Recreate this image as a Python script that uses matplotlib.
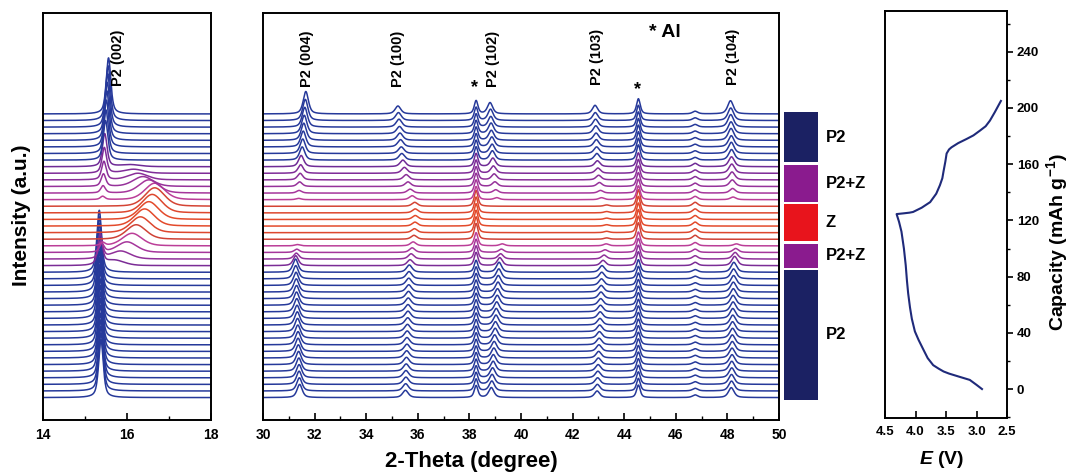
import numpy as np
import matplotlib
matplotlib.use('Agg')
import matplotlib.pyplot as plt
from matplotlib.ticker import MultipleLocator, FormatStrFormatter

plt.rcParams['font.family'] = ['Liberation Sans', 'DejaVu Sans']
plt.rcParams['font.weight'] = 'bold'
plt.rcParams['mathtext.fontset'] = 'custom'
plt.rcParams['mathtext.rm'] = 'Liberation Sans:bold'
plt.rcParams['mathtext.it'] = 'Liberation Sans:italic:bold'
plt.rcParams['mathtext.bf'] = 'Liberation Sans:bold'

# scans are indexed from the bottom (start of charge) to the top (end of discharge)
# phase blocks: P2, P2+Z, Z, P2+Z, P2
block_names = ['P2', 'P2+Z', 'Z', 'P2+Z', 'P2']
block_sizes = [20, 4, 6, 6, 8]
block_colors = ['#1b2163', '#8a1b8e', '#e8141c', '#8a1b8e', '#1b2163']

trace_colors = (['#26399a'] * 20
                + ['#7b2c96', '#8f3099', '#a5369b', '#bb3e98']
                + ['#cf4236', '#dd472e', '#e34a2b', '#e34a2b', '#dd472e', '#d44434']
                + ['#bb3e98', '#a5369b', '#96329a', '#8a2f99', '#7f2c98', '#6f2b96']
                + ['#26399a'] * 8)

# P2 (002) reflection
p002_pos = ([15.38] * 4 + [15.37] * 4 + [15.36] * 4 + [15.35] * 4 + [15.34] * 4
            + [15.36, 15.38, 15.40, 15.42] + [15.44] * 6
            + [15.42, 15.43, 15.44, 15.45, 15.46, 15.47]
            + [15.49, 15.50, 15.51, 15.52, 15.53, 15.54, 15.55, 15.56])
p002_h = ([8.8] * 5 + [9.0] * 5 + [9.2] * 5 + [9.4] * 5
          + [4.6, 2.6, 1.3, 0.5] + [0.0] * 6
          + [0.5, 1.1, 1.9, 2.8, 3.9, 5.0]
          + [6.0, 6.6, 7.1, 7.5, 7.8, 8.1, 8.3, 8.5])

# broad Z-phase (002) reflection
z002_pos = ([16.0] * 20
            + [15.70, 15.85, 16.00, 16.12, 16.22, 16.32, 16.42, 16.52, 16.60, 16.66,
               16.66, 16.52, 16.38, 16.26, 16.16, 16.08]
            + [16.0] * 8)
z002_h = ([0.0] * 20
          + [0.8, 1.2, 1.6, 1.9, 2.2, 2.4, 2.6, 2.7, 2.8, 2.8,
             2.5, 2.0, 1.5, 1.0, 0.6, 0.3]
          + [0.0] * 8)

p004_pos = ([31.42, 31.41, 31.40, 31.40, 31.39, 31.38, 31.37, 31.36, 31.36, 31.35,
             31.34, 31.33, 31.32, 31.31, 31.30, 31.30, 31.29, 31.28, 31.27, 31.26]
            + [31.27, 31.29, 31.31, 31.33] + [31.35] * 6
            + [31.38, 31.40, 31.42, 31.44, 31.46, 31.48]
            + [31.52, 31.54, 31.56, 31.58, 31.60, 31.62, 31.64, 31.66])
p004_h = ([2.0] * 20 + [1.5, 0.9, 0.5, 0.2] + [0.0] * 6
          + [0.2, 0.4, 0.7, 1.0, 1.3, 1.7]
          + [2.0, 2.2, 2.4, 2.6, 2.8, 3.0, 3.2, 3.4])

p100_pos = ([35.52, 35.53, 35.54, 35.54, 35.55, 35.56, 35.57, 35.58, 35.58, 35.59,
             35.60, 35.61, 35.62, 35.62, 35.63, 35.64, 35.65, 35.65, 35.66, 35.67]
            + [35.70, 35.74, 35.78, 35.82]
            + [35.85, 35.87, 35.89, 35.90, 35.90, 35.88]
            + [35.78, 35.70, 35.62, 35.55, 35.48, 35.42]
            + [35.38, 35.36, 35.33, 35.31, 35.29, 35.27, 35.25, 35.23])
p100_h = ([1.1] * 20 + [0.9, 0.8, 0.7, 0.6] + [0.6] * 6
          + [0.6, 0.6, 0.7, 0.8, 0.9, 1.0]
          + [1.0, 1.0, 1.1, 1.1, 1.1, 1.2, 1.2, 1.2])

p102_pos = ([38.85, 38.87, 38.88, 38.90, 38.92, 38.93, 38.95, 38.96, 38.98, 39.00,
             39.01, 39.03, 39.04, 39.06, 39.08, 39.09, 39.11, 39.12, 39.14, 39.15]
            + [39.18, 39.21, 39.24, 39.27] + [39.30] * 6
            + [39.06, 39.02, 38.99, 38.96, 38.93, 38.91]
            + [38.89, 38.88, 38.87, 38.85, 38.84, 38.83, 38.82, 38.80])
p102_h = ([1.5] * 20 + [1.2, 0.8, 0.5, 0.3] + [0.0] * 6
          + [0.3, 0.5, 0.7, 0.9, 1.1, 1.3]
          + [1.4, 1.4, 1.5, 1.5, 1.6, 1.6, 1.7, 1.7])

p103_pos = ([42.95, 42.96, 42.97, 42.98, 42.99, 43.00, 43.01, 43.02, 43.03, 43.04,
             43.05, 43.06, 43.07, 43.08, 43.09, 43.10, 43.11, 43.12, 43.13, 43.14]
            + [43.18, 43.22, 43.26, 43.30] + [43.32] * 6
            + [43.12, 43.08, 43.04, 43.01, 42.98, 42.96]
            + [42.94, 42.93, 42.92, 42.91, 42.90, 42.89, 42.88, 42.87])
p103_h = ([1.0] * 20 + [0.8, 0.6, 0.4, 0.3] + [0.2] * 6
          + [0.3, 0.4, 0.6, 0.7, 0.8, 0.9]
          + [1.0, 1.0, 1.1, 1.1, 1.2, 1.2, 1.2, 1.3])

p104_pos = ([48.15, 48.16, 48.16, 48.17, 48.17, 48.18, 48.18, 48.19, 48.19, 48.20,
             48.20, 48.21, 48.21, 48.22, 48.22, 48.23, 48.23, 48.24, 48.24, 48.25]
            + [48.28, 48.30, 48.32, 48.35] + [48.35] * 6
            + [48.22, 48.20, 48.19, 48.18, 48.17, 48.16]
            + [48.16, 48.15, 48.15, 48.14, 48.14, 48.13, 48.13, 48.12])
p104_h = ([1.5] * 20 + [1.4, 1.0, 0.6, 0.3] + [0.0] * 6
          + [0.4, 0.7, 1.0, 1.2, 1.4, 1.5]
          + [1.6, 1.7, 1.7, 1.8, 1.8, 1.9, 1.9, 2.0])

# aluminium current collector and a weak reflection near 46.75
al_pos = [38.26, 44.55]
al1_h = [1.8] * 20 + [2.0] * 4 + [2.4] * 6 + [2.0] * 6 + [2.0] * 8
al2_h = [1.9] * 20 + [2.1] * 4 + [2.5] * 6 + [2.1] * 6 + [2.3] * 8
weak_pos = 46.75
weak_h = [0.4] * 20 + [0.5] * 4 + [0.6] * 6 + [0.5] * 6 + [0.4] * 8

# charge / discharge curve
chg_v = [2.91, 3.0, 3.11, 3.3, 3.45, 3.54, 3.62, 3.71, 3.80, 3.87, 3.95, 4.01, 4.06,
         4.09, 4.12, 4.14, 4.16, 4.19, 4.23, 4.27, 4.31]
chg_cap = [0, 3, 6.5, 9, 11, 12.5, 14.5, 17, 22, 28, 35, 41, 50, 58, 68, 77, 88, 100,
           112, 119, 124.5]
dis_v = [4.31, 4.2, 4.1, 4.04, 3.9, 3.76, 3.66, 3.60, 3.56, 3.54, 3.51, 3.49, 3.45,
         3.41, 3.3, 3.16, 3.05, 2.94, 2.85, 2.78, 2.7, 2.6]
dis_cap = [124.5, 125, 125.5, 126, 129, 133, 139, 145, 150, 155, 162, 167.6, 170.5,
           172, 175, 178, 180.5, 184, 187, 191, 197, 205]


def peak(x, c, h, w, eta=0.6):
    d = (x - c) / (w / 2.)
    return h * (eta / (1 + d ** 2) + (1 - eta) * np.exp(-np.log(2) * d ** 2))


n_scans = len(p002_pos)
x_lo = np.linspace(14, 18, 900)
x_hi = np.linspace(30, 50, 3000)

fig = plt.figure(figsize=(10.7, 4.75), dpi=100)
ax1 = fig.add_axes([43 / 1070, 55 / 475, 168 / 1070, 407 / 475])
ax2 = fig.add_axes([263 / 1070, 55 / 475, 516 / 1070, 407 / 475])
axb = fig.add_axes([784 / 1070, 55 / 475, 34 / 1070, 407 / 475])
ax3 = fig.add_axes([885 / 1070, 57 / 475, 122 / 1070, 407 / 475])

for k in range(n_scans):
    y1 = (peak(x_lo, p002_pos[k], p002_h[k], 0.13)
          + peak(x_lo, z002_pos[k], z002_h[k], 0.55, eta=0.3))
    ax1.plot(x_lo, y1 + k, color=trace_colors[k], lw=1.1)

    y2 = (peak(x_hi, p004_pos[k], p004_h[k], 0.24)
          + peak(x_hi, p100_pos[k], p100_h[k], 0.26)
          + peak(x_hi, al_pos[0], al1_h[k], 0.17)
          + peak(x_hi, p102_pos[k], p102_h[k], 0.24)
          + peak(x_hi, p103_pos[k], p103_h[k], 0.24)
          + peak(x_hi, al_pos[1], al2_h[k], 0.17)
          + peak(x_hi, weak_pos, weak_h[k], 0.24)
          + peak(x_hi, p104_pos[k], p104_h[k], 0.26))
    ax2.plot(x_hi, y2 + k, color=trace_colors[k], lw=1.1)

y_range = (-3.4, 58.3)
for ax, xr in [(ax1, (14, 18)), (ax2, (30, 50))]:
    ax.set_xlim(*xr)
    ax.set_ylim(*y_range)
    ax.set_yticks([])
    ax.xaxis.set_major_locator(MultipleLocator(2))
    ax.xaxis.set_minor_locator(MultipleLocator(1))
    ax.tick_params(axis='x', which='major', direction='in', length=5, width=1.2,
                   labelsize=10, pad=6)
    ax.tick_params(axis='x', which='minor', direction='in', length=3, width=1)
    for s in ax.spines.values():
        s.set_linewidth(1.4)

lab = dict(rotation=90, ha='center', va='bottom', fontsize=10.5, fontweight='bold')
ax1.text(15.79, 47.2, 'P2 (002)', **lab)
ax2.text(31.70, 47.1, 'P2 (004)', **lab)
ax2.text(35.23, 47.1, 'P2 (100)', **lab)
ax2.text(38.90, 47.1, 'P2 (102)', **lab)
ax2.text(42.95, 47.4, 'P2 (103)', **lab)
ax2.text(48.20, 47.4, 'P2 (104)', **lab)
ax2.text(38.20, 45.7, '*', ha='center', va='bottom', fontsize=13)
ax2.text(44.50, 45.4, '*', ha='center', va='bottom', fontsize=13)
ax2.text(44.95, 54.0, '* Al', ha='left', va='bottom', fontsize=14)

# phase bar beside the patterns
axb.set_ylim(*y_range)
axb.set_xlim(0, 1)
axb.axis('off')
start = 0
for name, size, col in zip(block_names, block_sizes, block_colors):
    lo, hi = start - 0.3, start + size - 1 + 0.3
    axb.bar(0.5, hi - lo, bottom=lo, width=1.0, color=col)
    axb.text(1.22, (lo + hi) / 2, name, ha='left', va='center', fontsize=12,
             clip_on=False)
    start += size

ax3.plot(chg_v + dis_v[1:], chg_cap + dis_cap[1:], color='#1f2a7a', lw=1.5)
ax3.set_xlim(4.5, 2.5)
ax3.set_ylim(-20.6, 269)
ax3.xaxis.set_major_locator(MultipleLocator(0.5))
ax3.xaxis.set_major_formatter(FormatStrFormatter('%.1f'))
ax3.yaxis.set_major_locator(MultipleLocator(40))
ax3.yaxis.set_minor_locator(MultipleLocator(20))
ax3.yaxis.tick_right()
ax3.tick_params(axis='x', direction='in', length=5, width=1.2, labelsize=9.5, pad=6)
ax3.tick_params(axis='y', which='major', direction='out', length=4, width=1.2,
                labelsize=9.5, pad=3)
ax3.tick_params(axis='y', which='minor', direction='out', length=2.5, width=1)
for s in ax3.spines.values():
    s.set_linewidth(1.4)

fig.text(1057 / 1070, 1 - 242 / 475, 'Capacity (mAh g$^{-1}$)', rotation=90,
         ha='center', va='center', fontsize=14)
fig.text(942 / 1070, 1 - 460 / 475, '$E$ (V)', ha='center', va='center', fontsize=14)
fig.text(22 / 1070, 1 - 215 / 475, 'Intensity (a.u.)', rotation=90, ha='center',
         va='center', fontsize=15)
fig.text(471 / 1070, 1 - 462 / 475, '2-Theta (degree)', ha='center', va='center',
         fontsize=16)

fig.savefig('out.png', dpi=100)
